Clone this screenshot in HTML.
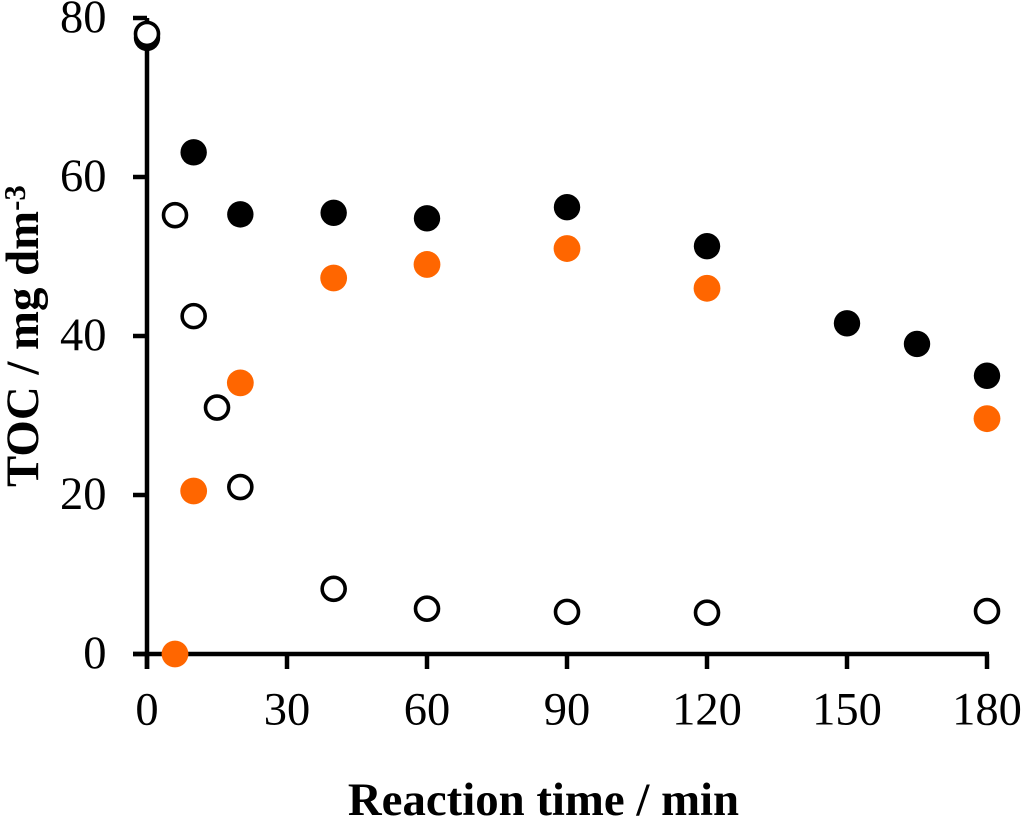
<!DOCTYPE html>
<html>
<head>
<meta charset="utf-8">
<style>
html,body{margin:0;padding:0;background:#fff;width:1024px;height:818px;overflow:hidden}
svg{display:block}
text{font-family:"Liberation Serif",serif;fill:#000}
</style>
</head>
<body>
<svg id="chart" width="1024" height="818" viewBox="0 0 1024 818" xmlns="http://www.w3.org/2000/svg">
<g id="marks"></g>
</svg>
<script>
const xTicks = [0, 30, 60, 90, 120, 150, 180];
const yTicks = [0, 20, 40, 60, 80];
const blackTimes = [0, 10, 20, 40, 60, 90, 120, 150, 165, 180];
const blackValues = [77.5, 63.1, 55.3, 55.5, 54.8, 56.2, 51.3, 41.6, 39.0, 35.0];
const orangeTimes = [6, 10, 20, 40, 60, 90, 120, 180];
const orangeValues = [0, 20.5, 34.1, 47.3, 49.0, 51.0, 46.0, 29.6];
const openTimes = [0, 6, 10, 15, 20, 40, 60, 90, 120, 180];
const openValues = [78.0, 55.2, 42.5, 31.0, 21.0, 8.2, 5.7, 5.3, 5.2, 5.4];

const NS = 'http://www.w3.org/2000/svg';
const root = document.getElementById('marks');
function sx(v){ return 147 + v * 840 / 180; }
function sy(v){ return 654 - v * 636 / 80; }
function make(tag, attrs, txt){
  const el = document.createElementNS(NS, tag);
  for (const k in attrs) el.setAttribute(k, attrs[k]);
  if (txt !== undefined) el.textContent = txt;
  root.appendChild(el);
  return el;
}
// axes
const yAxis = make('line', {x1:sx(0), x2:sx(0), y1:sy(80), y2:sy(0)+15, stroke:'#000', 'stroke-width':4.5});


const xAxis = make('line', {x1:133, x2:sx(180)+2, y1:sy(0), y2:sy(0), stroke:'#000', 'stroke-width':4.5});


// y ticks
yTicks.forEach(function(t){
  const tick = make('line', {x1:133, x2:sx(0), y1:sy(t), y2:sy(t), stroke:'#000', 'stroke-width':4.5});
  
  
  const lab = make('text', {x:106.5, y:sy(t)+14, 'font-size':46.5, 'text-anchor':'end'}, String(t));
  
  
});
// x ticks
xTicks.forEach(function(t){
  const tick = make('line', {x1:sx(t), x2:sx(t), y1:sy(0), y2:sy(0)+15, stroke:'#000', 'stroke-width':4.5});
  
  
  const lab = make('text', {x:sx(t), y:724.5, 'font-size':46.5, 'text-anchor':'middle'}, String(t));
  
  
});
// series
blackTimes.forEach(function(t, i){
  const c = make('circle', {cx:sx(t), cy:sy(blackValues[i]), r:13.2, fill:'#000'});
  
  
});
orangeTimes.forEach(function(t, i){
  const c = make('circle', {cx:sx(t), cy:sy(orangeValues[i]), r:13.4, fill:'#ff6600'});
  
  
});
openTimes.forEach(function(t, i){
  const c = make('circle', {cx:sx(t), cy:sy(openValues[i]), r:11.5, fill:'#fff', stroke:'#000', 'stroke-width':3.6});
  
  
});
// titles
const xTitle = make('text', {x:543.5, y:815, 'font-size':46.8, 'font-weight':'bold', 'text-anchor':'middle'}, 'Reaction time / min');


const yTitle = make('text', {transform:'translate(38,336) rotate(-90)', 'font-size':46.8, 'font-weight':'bold', 'text-anchor':'middle'});


const main = document.createElementNS(NS, 'tspan');
main.textContent = 'TOC / mg dm';
yTitle.appendChild(main);
const sup = document.createElementNS(NS, 'tspan');
sup.setAttribute('font-size', '31');
sup.setAttribute('dy', '-13');
sup.textContent = '-3';
yTitle.appendChild(sup);
</script>
</body>
</html>
